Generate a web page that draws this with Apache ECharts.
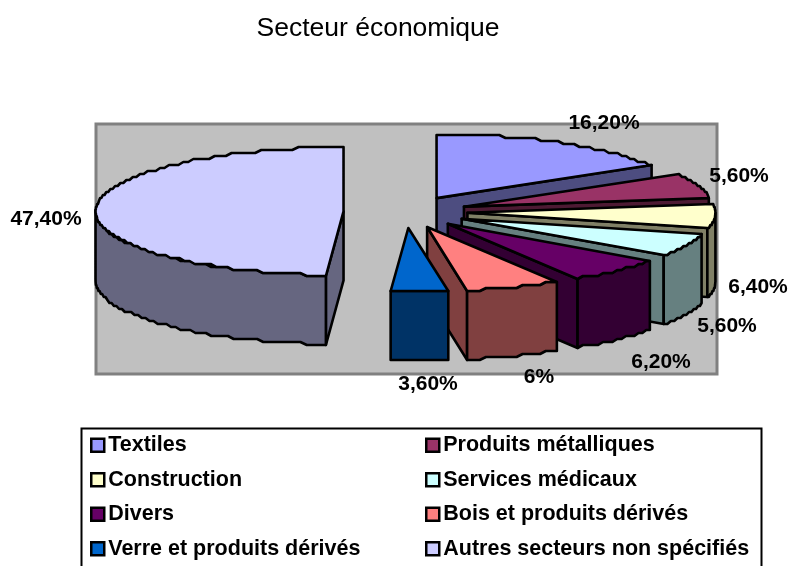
<!DOCTYPE html>
<html>
<head>
<meta charset="utf-8">
<style>html,body{margin:0;padding:0;background:#fff}#chart{width:790px;height:566px}</style>
<script src="https://cdn.jsdelivr.net/npm/echarts@6/dist/echarts.min.js"></script>
</head>
<body>
<div id="chart"></div>
<script>
const categories = ['Textiles','Produits métalliques','Construction','Services médicaux','Divers','Bois et produits dérivés','Verre et produits dérivés','Autres secteurs non spécifiés']
const values = [16.2,5.6,6.4,5.6,6.2,6,3.6,47.4]
const valueLabels = ['16,20%','5,60%','6,40%','5,60%','6,20%','6%','3,60%','47,40%']
const colors = ['#9999ff','#993366','#ffffcc','#ccffff','#660066','#ff8080','#0066cc','#ccccff']
const wallColors = ['#4d4d80','#4d1a33','#808066','#668080','#330033','#804040','#003366','#666680']

// pie geometry, fitted on the picture
const cx=405.5, cy=212, rx=248, ry=64, depth=69, explode=0.25
// centre of each value label
const labelAt = [[604,123],[739,176],[758,287],[727,326],[661,362],[539,377],[428,384],[46,219]]

const total = values.reduce((a,b)=>a+b,0)
const rad = d=>d*Math.PI/180

function sliceAngles(i){
  let before = 0
  for(let k=0;k<i;k++) before += values[k]
  return [before/total*360,(before+values[i])/total*360]
}

// excel draws its ellipses with small stairs
function rimPoint(ax,ay,deg,dy){
  let y = ay-ry*Math.cos(rad(deg))
  return [ax+rx*Math.sin(rad(deg)),Math.round(y/3)*3+dy]
}

function arcPoints(ax,ay,from,to,dy){
  const pts=[]
  const n=Math.max(2,Math.ceil((to-from)/1.5))
  for(let k=0;k<=n;k++) pts.push(rimPoint(ax,ay,from+(to-from)*k/n,dy))
  return pts
}

function renderSlice(i){
  const [a0,a1]=sliceAngles(i)
  const mid=(a0+a1)/2
  const ax=cx+explode*rx*Math.sin(rad(mid))
  const ay=cy-explode*ry*Math.cos(rad(mid))
  const line={stroke:'#000',lineWidth:2.6,lineJoin:'round'}
  const face=(points,fill)=>({type:'polygon',shape:{points},style:{fill,...line}})
  const children=[]

  // radial walls that look towards the viewer
  const radial=(deg)=>{
    const p=rimPoint(ax,ay,deg,0)
    return face([[ax,ay],p,[p[0],p[1]+depth],[ax,ay+depth]],wallColors[i])
  }
  if(Math.sin(rad(a1))>0.01) children.push(radial(a1))
  if(Math.sin(rad(a0))<-0.01) children.push(radial(a0))

  // outer wall, front half of the rim only
  const w0=Math.max(a0,90), w1=Math.min(a1,270)
  if(w1>w0){
    const topEdge=arcPoints(ax,ay,w0,w1,0)
    const bottomEdge=arcPoints(ax,ay,w0,w1,depth).reverse()
    children.push(face(topEdge.concat(bottomEdge),wallColors[i]))
  }

  children.push(face([[ax,ay]].concat(arcPoints(ax,ay,a0,a1,0)),colors[i]))

  children.push({
    type:'text',z2:100,
    style:{
      text:valueLabels[i],x:labelAt[i][0],y:labelAt[i][1],
      align:'center',verticalAlign:'middle',
      font:'bold 21px "Liberation Sans"',fill:'#000'
    }
  })
  return {type:'group',children}
}

const legendBase = {
  orient:'vertical',selectedMode:false,icon:'rect',
  itemWidth:13,itemHeight:13,itemGap:10,padding:0,
  itemStyle:{borderColor:'#000',borderWidth:2.5},
  textStyle:{fontFamily:'Liberation Sans',fontWeight:'bold',fontSize:21.5,lineHeight:24.5,color:'#000',padding:[0,0,0,-1]}
}

const chart = echarts.init(document.getElementById('chart'),null,{renderer:'canvas'})
chart.setOption({
  animation:false,
  backgroundColor:'#fff',
  title:{
    text:'Secteur économique',left:378,top:15,textAlign:'center',padding:0,
    textStyle:{fontFamily:'Liberation Sans',fontWeight:'normal',fontSize:26.5,color:'#000'}
  },
  graphic:[
    {type:'rect',shape:{x:96,y:124,width:621,height:250},style:{fill:'#c0c0c0',stroke:'#808080',lineWidth:3}},
    {type:'rect',shape:{x:81.5,y:428.5,width:680,height:150},style:{fill:'#fff',stroke:'#000',lineWidth:2}}
  ],
  legend:[
    {...legendBase,left:90,top:433,data:categories.filter((c,i)=>i%2===0)},
    {...legendBase,left:425,top:433,data:categories.filter((c,i)=>i%2===1)}
  ],
  series:categories.map((name,i)=>({
    type:'custom',name,coordinateSystem:'none',
    itemStyle:{color:colors[i]},
    data:[values[i]],
    renderItem:()=>renderSlice(i)
  }))
})
</script>
</body>
</html>
